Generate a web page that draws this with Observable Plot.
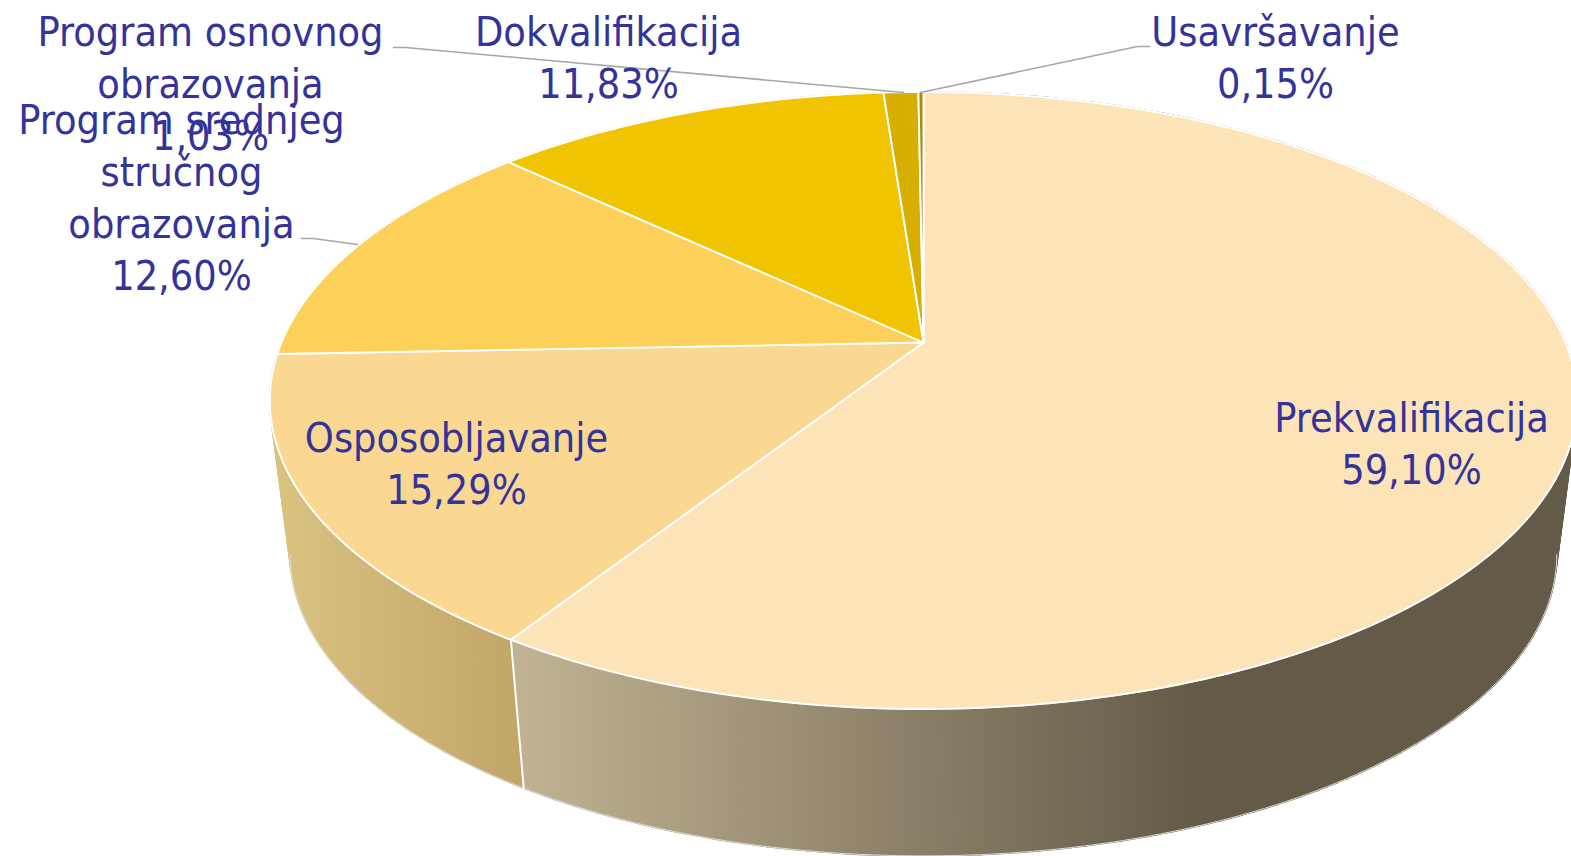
<!DOCTYPE html>
<html>
<head>
<meta charset="utf-8">
<style>
html,body{margin:0;padding:0;background:#fff;overflow:hidden}
svg{display:block}
</style>
<script src="https://cdn.jsdelivr.net/npm/d3@7"></script>
<script src="https://cdn.jsdelivr.net/npm/@observablehq/plot@0.6"></script>
</head>
<body>
<div id="chart"></div>
<script>
const names = ["Prekvalifikacija","Osposobljavanje","Program srednjeg stručnog obrazovanja","Dokvalifikacija","Program osnovnog obrazovanja","Usavršavanje"];
const shares = [59.10,15.29,12.60,11.83,1.03,0.15];
const shareLabels = ["59,10%","15,29%","12,60%","11,83%","1,03%","0,15%"];
const labelLines = [["Prekvalifikacija"],["Osposobljavanje"],["Program srednjeg","stručnog","obrazovanja"],["Dokvalifikacija"],["Program osnovnog","obrazovanja"],["Usavršavanje"]];
const topColors = ["#fce4b8","#fad892","#fdd05a","#f0c400","#d6af00","#b08c00"];

// layout of the perspective drawing
const W = 1571, H = 856;
const persp = 0.188;
const topDisc = {cx:923, cy:342, a:642, b:297.6};
const lowDisc = {cx:923, cy:497, a:622, b:291};
const labelX = [1411,456,181,608,210,1275];
const labelY = [441,461,195,55,81,55];
const lineStep = 52;
const leaders = [
  {id:"osnovni", xs:[393,405,903], ys:[47,47,92]},
  {id:"usavr",   xs:[1149,1137,920], ys:[46,46,92]},
  {id:"srednji", xs:[301,313,357], ys:[238,238,244]}
];
const wallGradients = [
  {id:"wall0", slice:0, x1:523, x2:1200, c1:"#c0b292", c2:"#635a47"},
  {id:"wall1", slice:1, x1:273, x2:523, c1:"#dac280", c2:"#c1a569"}
];

function project(angle, disc, r = 1) {
  const u = r * Math.sin(angle), v = r * Math.cos(angle), d = 1 + persp * v;
  return {x: disc.cx + disc.a * u / d, y: disc.cy - disc.b * v / d};
}
const arcs = d3.pie().sort(null).value(d => d)(shares);
const STEP = Math.PI / 180;
function arcAngles(a) {
  const n = Math.max(1, Math.ceil((a.endAngle - a.startAngle) / STEP));
  return d3.range(n + 1).map(i => a.startAngle + (a.endAngle - a.startAngle) * i / n);
}

const slicePoints = arcs.flatMap((a, i) => {
  const c = {...project(0, topDisc, 0), name: names[i]};
  return [c, ...arcAngles(a).map(t => ({...project(t, topDisc), name: names[i]})), c];
});
const rimPoints = d3.range(0, 361, 1).map(d => project(d * STEP, topDisc));

const stripPoints = g => {
  const ts = arcAngles(arcs[g.slice]);
  return ts.slice(0, -1).flatMap((t, i) => {
    const t2 = ts[i + 1];
    return [project(t, topDisc), project(t2, topDisc), project(t2, lowDisc), project(t, lowDisc)]
      .map(p => ({...p, strip: i}));
  });
};
// only the part of the lower rim that lies on the outline of the solid
const lowerRim = g => arcAngles(arcs[g.slice])
  .filter(t => Math.cos(t) <= -persp)
  .map(t => project(t, lowDisc));
const dividerPoints = [arcs[0].endAngle].flatMap(t => [project(t, topDisc), project(t, lowDisc)]);

const labelRows = arcs.map((a, i) => ({
  text: [...labelLines[i], shareLabels[i]].join("\n"), x: labelX[i], y: labelY[i]
}));
const leaderPoints = leaders.flatMap(l => l.xs.map((x, i) => ({id: l.id, x, y: l.ys[i]})));

const defs = () => {
  const s = d3.create("svg:defs");
  for (const g of wallGradients) {
    const lg = s.append("linearGradient").attr("id", g.id)
      .attr("gradientUnits", "userSpaceOnUse")
      .attr("x1", g.x1).attr("x2", g.x2).attr("y1", 0).attr("y2", 0);
    lg.append("stop").attr("offset", 0).attr("stop-color", g.c1);
    lg.append("stop").attr("offset", 1).attr("stop-color", g.c2);
  }
  return s.node();
};

const chart = Plot.plot({
  width: W, height: H, margin: 0,
  x: {domain: [0, W], range: [0, W], axis: null},
  y: {domain: [0, H], range: [0, H], axis: null},
  color: {domain: names, range: topColors},
  marks: [
    defs,
    ...wallGradients.map(g => Plot.line(stripPoints(g), {
      x: "x", y: "y", z: "strip", fill: `url(#${g.id})`, stroke: `url(#${g.id})`, strokeWidth: 1.6
    })),
    ...wallGradients.map(g => Plot.line(lowerRim(g), {x: "x", y: "y", stroke: "#dcdcdc", strokeWidth: 1})),
    Plot.line(dividerPoints, {x: "x", y: "y", stroke: "#fff", strokeWidth: 2}),
    Plot.line(rimPoints, {x: "x", y: "y", stroke: "#c4c4c4", strokeWidth: 1.6}),
    Plot.line(slicePoints, {x: "x", y: "y", z: "name", fill: "name", stroke: "#fff", strokeWidth: 1.9}),
    Plot.line(leaderPoints, {x: "x", y: "y", z: "id", stroke: "#a6a6a6", strokeWidth: 1.6}),
    Plot.text(labelRows, {
      x: "x", y: "y", text: "text", fill: "#333399", fontSize: 41,
      lineHeight: lineStep / 41, textAnchor: "middle", lineAnchor: "middle",
      fontFamily: "'DejaVu Sans Condensed','DejaVu Sans',sans-serif"
    })
  ]
});
document.getElementById("chart").append(chart);
</script>
</body>
</html>
